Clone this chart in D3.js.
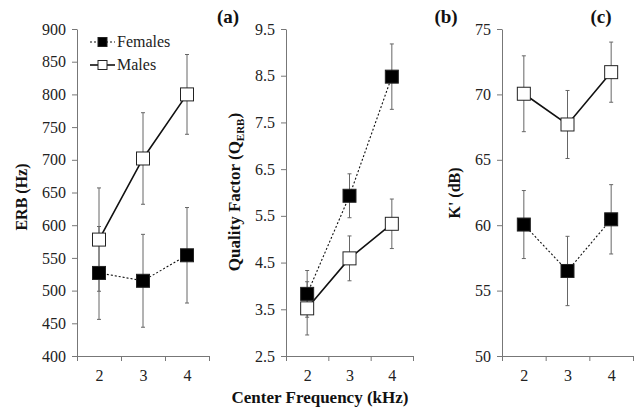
<!DOCTYPE html>
<html>
<head>
<meta charset="utf-8">
<script src="https://cdn.jsdelivr.net/npm/d3@7"></script>
<style>
  body { margin: 0; background: #fff; }
  svg { display: block; }
  svg text { font-family: "Liberation Serif", Tinos, "Times New Roman", Times, "DejaVu Serif", serif; }
  .axis path, .axis line { stroke: #777; }
  .axis text { fill: #222; font-size: 16px; }
  .title { font-weight: bold; fill: #111; }
</style>
</head>
<body>
<div id="chart"></div>
<script>
const freqs = [2, 3, 4];

const erbFemales = [527, 515, 554];
const erbFemalesErr = [71, 71, 73];
const erbMales = [578, 702, 800];
const erbMalesErr = [79, 70, 61];

const qFemales = [3.83, 5.93, 8.48];
const qFemalesErr = [0.5, 0.47, 0.7];
const qMales = [3.52, 4.59, 5.33];
const qMalesErr = [0.57, 0.48, 0.53];

const kFemales = [60.05, 56.5, 60.45];
const kFemalesErr = [2.6, 2.65, 2.65];
const kMales = [70.05, 67.7, 71.7];
const kMalesErr = [2.9, 2.6, 2.3];

const width = 640;
const height = 409;
const yTop = 29;
const yBottom = 356;

const panels = [
  { x0: 77, x1: 209, domain: [400, 900], step: 50, fmt: d3.format("d"),
    females: erbFemales, femalesErr: erbFemalesErr, males: erbMales, malesErr: erbMalesErr },
  { x0: 286, x1: 413, domain: [2.5, 9.5], step: 1, fmt: d3.format(".1f"),
    females: qFemales, femalesErr: qFemalesErr, males: qMales, malesErr: qMalesErr },
  { x0: 502, x1: 633, domain: [50, 75], step: 5, fmt: d3.format("d"),
    females: kFemales, femalesErr: kFemalesErr, males: kMales, malesErr: kMalesErr },
];

const svg = d3.select("#chart")
  .append("svg")
  .attr("width", width)
  .attr("height", height);

const sq = 13;

panels.forEach((p) => {
  const x = d3.scaleLinear().domain([1.5, 4.5]).range([p.x0, p.x1]);
  const y = d3.scaleLinear().domain(p.domain).range([yBottom, yTop]);
  const g = svg.append("g");

  g.append("g")
    .attr("class", "axis")
    .attr("transform", `translate(${p.x0},0)`)
    .call(d3.axisLeft(y)
      .tickValues(d3.range(p.domain[0], p.domain[1] + p.step / 2, p.step))
      .tickFormat(p.fmt)
      .tickSizeInner(5)
      .tickSizeOuter(0)
      .tickPadding(6));

  g.append("g")
    .attr("class", "axis")
    .attr("transform", `translate(0,${yBottom})`)
    .call(d3.axisBottom(x)
      .tickValues([1.5, 2.5, 3.5, 4.5])
      .tickFormat("")
      .tickSizeInner(5)
      .tickSizeOuter(0));

  g.append("g")
    .attr("class", "axis")
    .attr("transform", `translate(0,${yBottom})`)
    .call(d3.axisBottom(x).tickValues(freqs).tickFormat(d3.format("d")).tickSize(0).tickPadding(14))
    .call((a) => a.select(".domain").remove());

  const series = [
    { vals: p.males, errs: p.malesErr, fill: "#fff", dash: null, width: 1.6 },
    { vals: p.females, errs: p.femalesErr, fill: "#000", dash: "2,2", width: 1.1 },
  ];

  series.forEach((s) => {
    const pts = freqs.map((f, i) => ({ f, v: s.vals[i], e: s.errs[i] }));
    const eb = g.append("g").attr("stroke", "#666").attr("stroke-width", 1);
    eb.selectAll(".err")
      .data(pts)
      .join("line")
      .attr("x1", (d) => x(d.f))
      .attr("x2", (d) => x(d.f))
      .attr("y1", (d) => y(d.v - d.e))
      .attr("y2", (d) => y(d.v + d.e));
    eb.selectAll(".capt")
      .data(pts.flatMap((d) => [d.v - d.e, d.v + d.e].map((v) => ({ f: d.f, v }))))
      .join("line")
      .attr("x1", (d) => x(d.f) - 2)
      .attr("x2", (d) => x(d.f) + 2)
      .attr("y1", (d) => y(d.v))
      .attr("y2", (d) => y(d.v));

    g.append("path")
      .datum(pts)
      .attr("fill", "none")
      .attr("stroke", "#111")
      .attr("stroke-width", s.width)
      .attr("stroke-dasharray", s.dash)
      .attr("d", d3.line().x((d) => x(d.f)).y((d) => y(d.v)));
  });

  series.forEach((s) => {
    const pts = freqs.map((f, i) => ({ f, v: s.vals[i] }));
    g.selectAll(null)
      .data(pts)
      .join("rect")
      .attr("x", (d) => x(d.f) - sq / 2)
      .attr("y", (d) => y(d.v) - sq / 2)
      .attr("width", sq)
      .attr("height", sq)
      .attr("fill", s.fill)
      .attr("stroke", "#222")
      .attr("stroke-width", 1);
  });
});

// panel letters
[["(a)", 228], ["(b)", 446], ["(c)", 601]].forEach(([t, cx]) => {
  svg.append("text")
    .attr("class", "title")
    .attr("x", cx)
    .attr("y", 23)
    .attr("text-anchor", "middle")
    .attr("font-size", 19)
    .text(t);
});

// y titles
function yTitle(cx, cy, size) {
  return svg.append("text")
    .attr("class", "title")
    .attr("font-size", size)
    .attr("text-anchor", "middle")
    .attr("transform", `translate(${cx},${cy}) rotate(-90)`);
}
yTitle(27, 197, 16).text("ERB (Hz)");
const qt = yTitle(240, 192, 17);
qt.append("tspan").text("Quality Factor (Q");
qt.append("tspan").attr("font-size", 11).attr("dy", 4).text("ERB");
qt.append("tspan").attr("dy", -4).text(")");
yTitle(460, 193, 16).text("K' (dB)");

svg.append("text")
  .attr("class", "title")
  .attr("font-size", 17)
  .attr("x", 320)
  .attr("y", 403)
  .attr("text-anchor", "middle")
  .text("Center Frequency (kHz)");

// legend
const legend = svg.append("g").attr("transform", "translate(90,0)");
[
  { label: "Females", y: 42, fill: "#000", dash: "2,2", w: 1.1 },
  { label: "Males", y: 65, fill: "#fff", dash: null, w: 1.6 },
].forEach((d) => {
  legend.append("line")
    .attr("x1", 0).attr("x2", 25)
    .attr("y1", d.y).attr("y2", d.y)
    .attr("stroke", "#111")
    .attr("stroke-width", d.w)
    .attr("stroke-dasharray", d.dash);
  legend.append("rect")
    .attr("x", 8).attr("y", d.y - 4.5)
    .attr("width", 9).attr("height", 9)
    .attr("fill", d.fill)
    .attr("stroke", "#222");
  legend.append("text")
    .attr("x", 27).attr("y", d.y + 5)
    .attr("font-size", 16)
    .attr("fill", "#222")
    .text(d.label);
});
</script>
</body>
</html>
